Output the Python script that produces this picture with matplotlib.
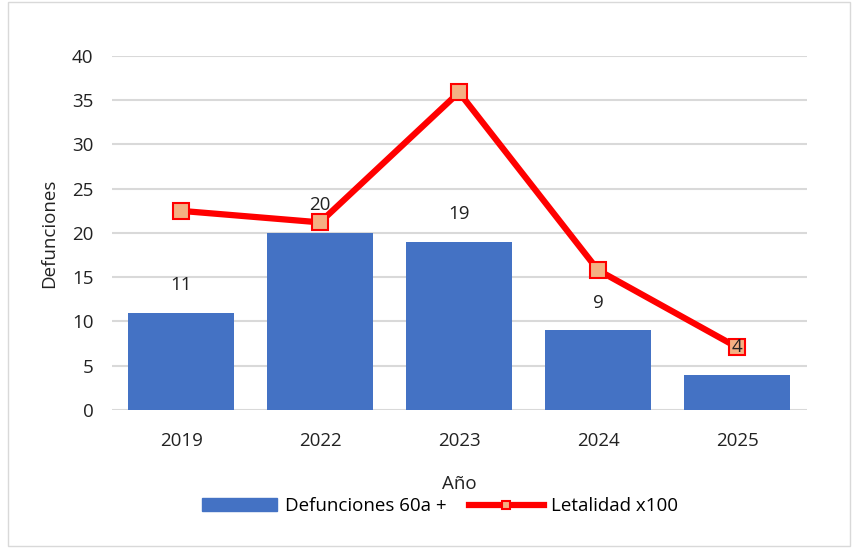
import matplotlib.pyplot as plt
from matplotlib.patches import Rectangle
from matplotlib.lines import Line2D

plt.rcParams['font.family'] = ['Open Sans', 'DejaVu Sans']

# datos
anios = ['2019', '2022', '2023', '2024', '2025']
defunciones = [11, 20, 19, 9, 4]
letalidad = [22.5, 21.2, 35.9, 15.8, 7.1]
etiq_letalidad = ['22,5', '21,2', '35,9', '15,8', '7,1']

fig = plt.figure(figsize=(8.55, 5.49), dpi=100)
ax = fig.add_axes([0.1305, 0.2532, 0.8128, 0.6448])

x = range(len(anios))
ax.bar(x, defunciones, width=0.76, color='#4472C4', zorder=2, label='Defunciones 60a +')
ax.plot(x, letalidad, color='#FF0000', lw=4.5, marker='s', ms=12,
        mfc='#F4B183', mec='#FF0000', mew=1.5, zorder=3, label='Letalidad x100')

for i, v in enumerate(defunciones):
    ax.annotate(str(v), (i, v), xytext=(0, 20), textcoords='offset points',
                ha='center', va='center', fontsize=13.5, color='#222222', zorder=5)
for i, v in enumerate(letalidad):
    ax.annotate(etiq_letalidad[i], (i, v), xytext=(0, 27), textcoords='offset points',
                ha='center', va='center', fontsize=13.5, color='white', zorder=1.5)

ax.set_xlim(-0.5, len(anios) - 0.5)
ax.set_ylim(0, 40)
ax.set_yticks(range(0, 41, 5))
ax.set_xticks(list(x))
ax.set_xticklabels(anios)
ax.tick_params(length=0, labelsize=13.5, colors='#222222')
ax.tick_params(axis='x', pad=16)
ax.tick_params(axis='y', pad=13)
ax.grid(axis='y', color='#D9D9D9', lw=1.5, zorder=0)
for s in ax.spines.values():
    s.set_visible(False)

ax.set_xlabel('Año', fontsize=13.5, color='#222222', labelpad=18)
ax.set_ylabel('Defunciones', fontsize=13.5, color='#222222', labelpad=10)

h_bar = Rectangle((0, 0), 1, 1, color='#4472C4')
h_line = Line2D([], [], color='#FF0000', lw=4.5, marker='s', ms=6,
                mfc='#F4B183', mec='#FF0000', mew=1.5)
fig.legend([h_bar, h_line], ['Defunciones 60a +', 'Letalidad x100'],
           loc='center', bbox_to_anchor=(0.515, 0.078), ncol=2, frameon=False,
           fontsize=13.5, handlelength=4, columnspacing=1.2, handletextpad=0.4)

fig.patches.append(Rectangle((0.009, 0.006), 0.985, 0.99, transform=fig.transFigure,
                             fill=False, ec='#D9D9D9', lw=1))

fig.savefig('out.png', dpi=100)
